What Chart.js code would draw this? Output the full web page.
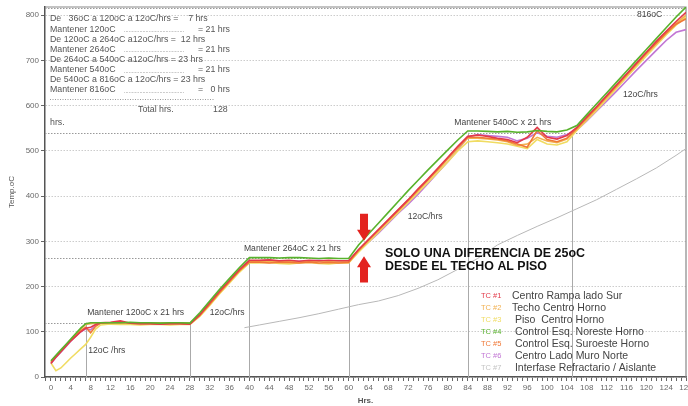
<!DOCTYPE html>
<html lang="es">
<head>
<meta charset="UTF-8">
<title>Curva de calentamiento del horno</title>
<script src="https://cdn.jsdelivr.net/npm/chart.js"></script>
<style>
  html, body { margin: 0; padding: 0; background: #fff; overflow: hidden; }
  #wrap { position: relative; width: 705px; height: 406px; }
</style>
</head>
<body>
<div id="wrap"><canvas id="chart" width="705" height="406"></canvas></div>
<script>
// horas de lectura (compartidas por TC #1..#6)
const hours = [0,1,2,3,4,5,6,7,8,9,10,
  12,14,16,18,20,22,24,26,28,
  30,32,34,36,38,40,
  42,44,46,48,50,52,54,56,58,60,
  62,64,66,68,70,72,74,76,78,80,82,84,
  86,88,90,92,94,96,98,100,102,104,
  106,108,110,112,114,116,118,120,122,124,126,128];

const tc1 = [30,44,56,68,80,90,100,108,110,116,120,
  121,124,119,118,118,117,118,118,117,
  138,164,190,214,238,258,
  258,259,257,258,256,258,257,258,257,257,
  282,304,326,348,370,392,416,438,462,486,510,532,
  535,532,528,525,518,530,552,530,526,534,
  552,575,598,622,646,670,694,718,742,764,786,806];
const tc2 = [34,46,58,70,82,94,106,116,118,119,119,
  120,119,120,119,120,120,119,120,119,
  137,162,188,212,236,256,
  256,255,256,255,254,255,256,255,254,255,
  280,302,323,345,367,389,412,435,458,482,506,528,
  528,526,524,520,512,515,530,522,518,526,
  548,570,594,618,642,666,690,714,737,760,782,800];
const tc3 = [31,14,20,31,42,52,62,72,88,106,115,
  117,116,116,115,116,116,115,116,116,
  134,158,184,208,232,252,
  252,253,251,250,252,253,251,250,252,252,
  276,298,320,342,364,386,408,430,453,476,500,520,
  522,520,518,515,510,505,525,515,513,520,
  545,568,590,614,638,662,686,710,733,756,778,796];
const tc4 = [36,48,60,72,84,96,108,118,120,120,120,
  120,120,121,120,120,119,120,120,119,
  142,168,194,218,242,264,
  264,264,263,264,264,263,262,263,262,262,
  292,316,340,364,388,412,435,458,480,502,524,544,
  544,543,542,543,541,542,545,543,542,546,
  556,580,604,628,652,676,700,724,748,772,796,818];
const tc5 = [32,45,57,69,81,92,102,110,98,112,119,
  120,121,119,118,118,117,118,118,117,
  136,161,187,211,235,254,
  254,252,254,253,252,254,252,253,252,253,
  280,303,325,347,369,391,414,437,460,484,508,530,
  530,528,526,522,515,508,545,525,520,528,
  550,573,596,620,644,668,692,716,738,760,780,792];
const tc6 = [30,43,55,67,79,90,100,106,104,114,119,
  119,120,118,118,118,118,117,118,118,
  137,162,187,211,235,256,
  257,258,256,257,256,257,258,256,257,257,
  278,298,318,340,362,382,404,428,452,476,502,530,
  536,534,532,530,522,528,540,532,530,536,
  546,566,588,610,632,655,678,700,722,744,762,768];

// TC #7 interfase refractario / aislante
const hours7 = [39,42,46,50,54,58,62,66,70,74,78,82,86,90,94,98,102,106,110,114,118,122,126,128];
const tc7 = [109,115,123,131,140,150,160,168,180,196,215,238,262,292,313,333,352,372,392,415,438,462,490,505];

const tcTags = ['TC #1','TC #2','TC #3','TC #4','TC #5','TC #6','TC #7'];
const tcNames = ['Centro Rampa lado Sur','Techo Centro Horno',' Piso  Centro Horno',' Control Esq. Noreste Horno',
  ' Control Esq. Suroeste Horno',' Centro Lado Muro Norte',' Interfase Refractario / Aislante'];
const tcColors = ['#e33a4a','#f2b050','#f0dc62','#58b22c','#f07836','#c276d4','#b8b8b8'];
const tcOrder = [1,3,4,0,2,5,6];

// programa de calentamiento
const stepHours = [7,28,40,60,84,105];
const stepTemps = [120,120,264,264,540,540];
const levelTemps = [120,264,540,816];
const levelEnds = [28,60,128,128];

const programRows = [
  ['De   36oC a 120oC a 12oC/hrs =    7 hrs', ''],
  ['Mantener 120oC', '= 21 hrs'],
  ['De 120oC a 264oC a12oC/hrs =  12 hrs', ''],
  ['Mantener 264oC', '= 21 hrs'],
  ['De 264oC a 540oC a12oC/hrs = 23 hrs', ''],
  ['Mantener 540oC', '= 21 hrs'],
  ['De 540oC a 816oC a 12oC/hrs = 23 hrs', ''],
  ['Mantener 816oC', '=   0 hrs']
];

// notas sobre la curva: [texto, hora, temp]
const notes = [
  ['Mantener 120oC x 21 hrs', 7.3, 142],
  ['12oC /hrs', 7.5, 58],
  ['12oC/hrs', 32, 142],
  ['Mantener 264oC x 21 hrs', 38.9, 283],
  ['12oC/hrs', 71.9, 355],
  ['Mantener 540oC x 21 hrs', 81.3, 563],
  ['12oC/hrs', 115.3, 624],
  ['816oC', 118.1, 801]
];
const arrowHour = 63.1;
const arrowDown = [361, 301];
const arrowUp = [209, 267];

const FONT = '"Liberation Sans", Arial, sans-serif';

const datasets = tcTags.map((t, i) => {
  const xs = i === 6 ? hours7 : hours;
  const vals = [tc1, tc2, tc3, tc4, tc5, tc6, tc7][i];
  return {
    label: t + ' ' + tcNames[i].trim(),
    data: xs.map((h, k) => ({ x: h, y: vals[k] })),
    borderColor: tcColors[i],
    borderWidth: i === 6 ? 1 : 1.6,
    pointRadius: 0,
    tension: 0,
    order: tcOrder[i]
  };
});

function txt(ctx, s, x, y, font, color, align, maxW) {
  ctx.font = font;
  ctx.fillStyle = color;
  ctx.textAlign = align || 'left';
  ctx.textBaseline = 'middle';
  if (maxW) ctx.fillText(s, x, y, maxW); else ctx.fillText(s, x, y);
}

function arrow(ctx, px, yFrom, yTip) {
  const dir = yTip > yFrom ? 1 : -1;
  const head = 11, hw = 7, sw = 4;
  const yb = yTip - dir * head;
  ctx.beginPath();
  ctx.moveTo(px - sw, yFrom);
  ctx.lineTo(px + sw, yFrom);
  ctx.lineTo(px + sw, yb);
  ctx.lineTo(px + hw, yb);
  ctx.lineTo(px, yTip);
  ctx.lineTo(px - hw, yb);
  ctx.lineTo(px - sw, yb);
  ctx.closePath();
  ctx.fill();
}

const overlay = {
  id: 'overlay',
  beforeDatasetsDraw(chart) {
    const { ctx, chartArea: a, scales: { x, y } } = chart;
    ctx.save();
    ctx.lineWidth = 1;
    ctx.strokeStyle = '#999';
    ctx.setLineDash([1.5, 1.5]);
    levelTemps.forEach((t, i) => {
      const py = Math.round(y.getPixelForValue(t)) + 0.5;
      ctx.beginPath();
      ctx.moveTo(a.left, py);
      ctx.lineTo(x.getPixelForValue(levelEnds[i]), py);
      ctx.stroke();
    });
    ctx.setLineDash([]);
    ctx.strokeStyle = '#aaa';
    stepHours.forEach((h, i) => {
      const px = Math.round(x.getPixelForValue(h)) + 0.5;
      ctx.beginPath();
      ctx.moveTo(px, a.bottom);
      ctx.lineTo(px, y.getPixelForValue(stepTemps[i]));
      ctx.stroke();
    });
    // marco superior y derecho
    ctx.strokeStyle = '#888';
    ctx.lineWidth = 1.2;
    ctx.beginPath();
    ctx.moveTo(a.left, a.top);
    ctx.lineTo(a.right, a.top);
    ctx.lineTo(a.right, a.bottom);
    ctx.stroke();
    ctx.restore();
  },
  afterDatasetsDraw(chart) {
    const { ctx, chartArea: a, scales: { x, y } } = chart;
    ctx.save();
    const small = '8.8px ' + FONT;

    // cuadro del programa
    const bx = a.left + 5, by = a.top + 12;
    programRows.forEach((r, i) => {
      const ry = by + i * 10.15;
      if (r[1]) {
        txt(ctx, r[0], bx, ry, small, '#555');
        txt(ctx, '.......................................', bx + 74, ry + 1, '7px ' + FONT, '#888', 'left', 60);
        txt(ctx, r[1], bx + 180, ry, small, '#555', 'right');
      } else {
        txt(ctx, r[0], bx, ry, small, '#555', 'left', 168);
      }
    });
    ctx.strokeStyle = '#999';
    ctx.lineWidth = 1;
    ctx.setLineDash([1, 1.5]);
    ctx.beginPath();
    ctx.moveTo(bx, by + 80.5);
    ctx.lineTo(bx + 165, by + 80.5);
    ctx.stroke();
    ctx.setLineDash([]);
    txt(ctx, 'Total hrs.', bx + 88, by + 91, small, '#555');
    txt(ctx, '128', bx + 163, by + 91, small, '#555');
    txt(ctx, 'hrs.', bx, by + 103.5, small, '#555');

    // notas
    notes.forEach(n => {
      txt(ctx, n[0], x.getPixelForValue(n[1]), y.getPixelForValue(n[2]), '8.6px ' + FONT, '#444');
    });

    // flechas
    ctx.fillStyle = '#e3231f';
    const ax = x.getPixelForValue(arrowHour);
    arrow(ctx, ax, y.getPixelForValue(arrowDown[0]), y.getPixelForValue(arrowDown[1]));
    arrow(ctx, ax, y.getPixelForValue(arrowUp[0]), y.getPixelForValue(arrowUp[1]));

    const tx = ax + 21;
    const ty = y.getPixelForValue(arrowUp[1]) - 3;
    txt(ctx, 'SOLO UNA DIFERENCIA DE 25oC', tx, ty, 'bold 13.5px ' + FONT, '#111', 'left', 200);
    txt(ctx, 'DESDE EL TECHO AL PISO', tx, ty + 13.5, 'bold 13.5px ' + FONT, '#111', 'left', 162);

    // leyenda
    const lx = a.right - 205, ly = a.bottom - 81;
    tcTags.forEach((t, i) => {
      const ry = ly + i * 12;
      txt(ctx, t, lx, ry, '7.5px ' + FONT, i === 6 ? '#c4c4c4' : tcColors[i]);
      txt(ctx, tcNames[i], lx + 31, ry, '10.5px ' + FONT, '#444');
    });
    ctx.restore();
  }
};

new Chart(document.getElementById('chart'), {
  type: 'line',
  data: { datasets },
  options: {
    responsive: false,
    animation: false,
    layout: { padding: { top: 7, right: 19, left: 0, bottom: 0 } },
    plugins: { legend: { display: false }, tooltip: { enabled: false } },
    scales: {
      x: {
        type: 'linear',
        min: -1.2,
        max: 128,
        afterFit(s) { s.height = 29; },
        ticks: {
          stepSize: 1,
          autoSkip: false,
          maxRotation: 0,
          includeBounds: false,
          padding: 2,
          color: '#6a6a6a',
          font: { size: 8, family: FONT },
          callback: v => (Math.round(v) % 4 === 0 && v >= 0) ? Math.round(v) : ''
        },
        grid: { drawOnChartArea: false, tickLength: 4, tickColor: '#666', tickWidth: 1 },
        border: { color: '#555', width: 1.5 },
        title: { display: true, text: 'Hrs.', color: '#555', font: { size: 8, weight: 'bold', family: FONT }, padding: { top: 0, bottom: 0 } }
      },
      y: {
        min: 0,
        max: 818,
        afterFit(s) { s.width = 45; },
        ticks: {
          stepSize: 100,
          includeBounds: false,
          padding: 2,
          color: '#6a6a6a',
          font: { size: 8, family: FONT }
        },
        grid: { color: '#cccccc', lineWidth: 1, tickLength: 4, tickColor: '#666' },
        border: { color: '#555', width: 1.5, dash: [1.5, 1.5] },
        title: { display: true, text: 'Temp.oC', color: '#555', font: { size: 8, family: FONT }, padding: { top: 7, bottom: 0 } }
      }
    }
  },
  plugins: [overlay]
});
</script>
</body>
</html>
